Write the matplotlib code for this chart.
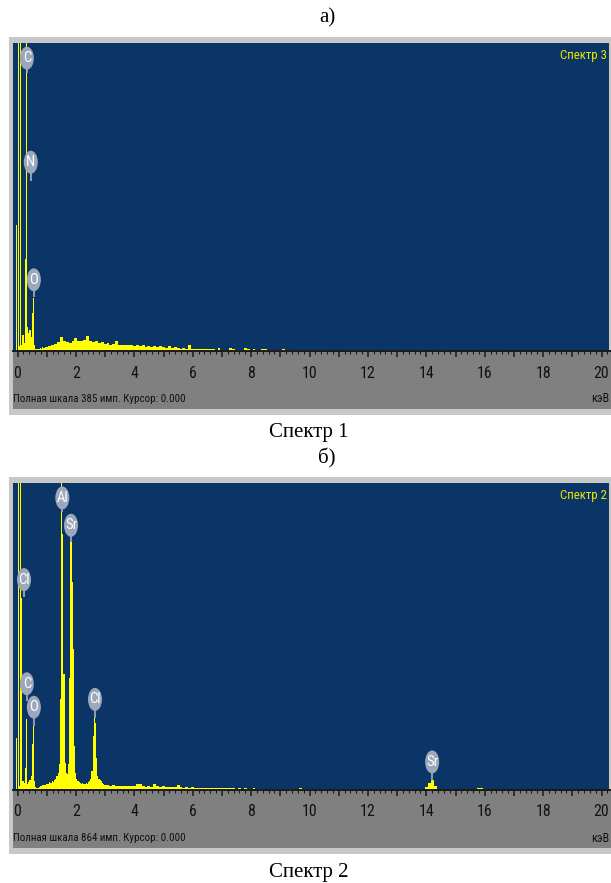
import matplotlib
matplotlib.use("Agg")
import matplotlib.pyplot as plt
import numpy as np
from matplotlib.patches import Rectangle, Ellipse
from matplotlib.ticker import MultipleLocator
from matplotlib.transforms import ScaledTranslation
from matplotlib import font_manager as fm

# ---------------- data (counts) ----------------
# Spectrum 1 (top, "Спектр 3"), fine channels near zero
top_lo_energy = [-0.03, 0.03, 0.07, 0.11, 0.15, 0.19, 0.23, 0.27, 0.31, 0.35, 0.39, 0.43,
                 0.47, 0.51, 0.55, 0.59, 0.63, 0.67, 0.71, 0.75, 0.79, 0.83, 0.87, 0.91, 0.95]
top_lo_counts = [157, 900, 6, 900, 8, 20, 10, 115, 900, 30, 22, 26,
                 18, 48, 66, 8, 3, 2, 3, 2, 4, 3, 5, 4, 5]
# background channels from 1.0 keV in 0.1 keV steps
top_bg_start = 1.0
top_bg_counts = [5, 6, 7, 9, 11, 18, 12, 11, 10, 12,
                 16, 12, 13, 14, 19, 13, 11, 12, 10, 11,
                 9, 10, 8, 9, 12, 8, 7, 8, 7, 7,
                 6, 7, 6, 7, 5, 6, 5, 6, 5, 6,
                 5, 4, 6, 4, 5, 4, 3, 4, 3, 7,
                 3, 3, 2, 3, 2, 3, 2, 2, 1, 4,
                 1, 1, 1, 4, 3, 1, 1, 1, 4, 3,
                 1, 3, 1, 1, 2, 2, 1, 1, 1, 1,
                 1, 3, 1, 1, 1, 1, 0, 1, 1, 0,
                 1, 1, 0, 1, 0, 1, 1, 0, 1, 0,
                 1, 0, 1, 1, 0, 1, 0, 1, 1, 0,
                 1, 0, 1, 0, 1, 0, 1, 1, 0, 1,
                 1, 0, 1, 0, 0, 1, 0, 1, 0, 1,
                 0, 0, 1, 0, 0, 1, 0, 1, 0, 0,
                 1, 0, 0, 1, 0, 0, 1, 0, 0, 1,
                 0, 0, 1, 0, 0, 0, 1, 0, 0, 1, 0]
top_full_scale = 385
top_labels = ["C", "N", "O"]
top_label_energy = [0.32, 0.455, 0.56]
top_label_y = [366, 236, 89]
top_stem_y = [347, 213, 67]

# Spectrum 2 (bottom, "Спектр 2"), fine channels up to 3 keV
bot_lo_energy = [-0.03, 0.03, 0.07, 0.11, 0.15, 0.19, 0.23, 0.27, 0.31, 0.35, 0.39, 0.43,
                 0.47, 0.51, 0.55, 0.59, 0.63, 0.67, 0.71, 0.75, 0.79, 0.83, 0.87, 0.91,
                 0.95, 0.99, 1.03, 1.07, 1.11, 1.15, 1.19, 1.23, 1.27, 1.31, 1.35, 1.39,
                 1.43, 1.47, 1.51, 1.55, 1.59, 1.63, 1.67, 1.71, 1.75, 1.79, 1.83, 1.87,
                 1.91, 1.95, 1.99, 2.03, 2.07, 2.11, 2.15, 2.19, 2.23, 2.27, 2.31, 2.35,
                 2.39, 2.43, 2.47, 2.51, 2.55, 2.59, 2.63, 2.67, 2.71, 2.75, 2.79, 2.83,
                 2.87, 2.91, 2.95]
bot_lo_counts = [147, 2000, 12, 2000, 540, 25, 20, 62, 200, 18, 22, 28,
                 40, 130, 180, 25, 8, 6, 5, 8, 10, 12, 14, 13,
                 15, 16, 18, 17, 22, 20, 25, 22, 28, 30, 38, 48,
                 72, 256, 900, 720, 327, 75, 48, 45, 72, 316, 697, 584,
                 398, 124, 48, 30, 25, 22, 20, 18, 20, 18, 17, 20,
                 18, 22, 25, 30, 54, 152, 203, 189, 90, 40, 30, 28,
                 25, 20, 18]
bot_bg_start = 3.0
bot_bg_counts = [15, 14, 12, 13, 11, 12, 11, 10, 12, 10,
                 11, 17, 16, 10, 9, 10, 9, 18, 10, 9,
                 12, 9, 8, 9, 8, 14, 8, 7, 8, 7,
                 8, 6, 7, 6, 6, 7, 6, 6, 5, 6,
                 5, 5, 6, 5, 5, 4, 5, 4, 5, 4,
                 4, 5, 4, 4, 3, 4, 3, 4, 3, 3,
                 4, 3, 3, 3, 4, 3, 3, 6, 3, 3,
                 2, 3, 0, 3, 0, 3, 3, 0, 0, 3,
                 0, 3, 0, 0, 3, 0, 3, 0, 0, 3,
                 0, 0, 3, 0, 3, 0, 0, 3, 0, 0,
                 3, 0, 3, 0, 0, 3, 0, 0, 3, 0,
                 8, 20, 28, 10, 3, 0, 3, 0, 0, 3,
                 0, 0, 0, 0, 3, 0, 0, 3, 6, 5,
                 3, 0, 0, 0, 0, 0]
bot_full_scale = 864
bot_labels = ["Cl", "C", "O", "Al", "Sr", "Cl", "Sr"]
bot_label_energy = [0.223, 0.32, 0.56, 1.535, 1.832, 2.654, 14.2]
bot_label_y = [592, 299, 233, 822, 745, 255, 79]
bot_stem_y = [542, 250, 180, 783, 698, 203, 26]

tick_values = list(range(0, 21))

# ---------------- styling ----------------
W, H = 611, 883
BLUE = "#0a3566"
YELLOW = "#ffff00"
GRAY = "#808080"
FRAME = "#c8c8c8"
LABEL_BG = "#9ba7bb"
SERIF = ["Liberation Serif", "DejaVu Serif"]
KEV0_PX = 17.5
PX_PER_KEV = 29.2

# pick a condensed sans if one is installed
_entries = fm.fontManager.ttflist
_names = {f.name for f in _entries}
FONT_STRETCH = "normal"
if "Liberation Sans Narrow" in _names:
    NARROW = ["Liberation Sans Narrow", "DejaVu Sans"]
    WFAC = 1.0
elif "Roboto Condensed" in _names:
    NARROW = ["Roboto Condensed", "DejaVu Sans"]
    WFAC = 0.97
elif any(f.name == "DejaVu Sans" and "condensed" in str(f.stretch) for f in _entries):
    NARROW = ["DejaVu Sans"]
    FONT_STRETCH = "condensed"
    WFAC = 0.9
else:
    NARROW = ["Liberation Sans", "DejaVu Sans"]
    WFAC = 0.85


def px2kev(px):
    return (px - KEV0_PX) / PX_PER_KEV


def fbox(x0, y0, x1, y1):
    return [x0 / W, 1 - y1 / H, (x1 - x0) / W, (y1 - y0) / H]


def ntext(ax, x, y, s, size, **kw):
    return ax.text(x, y, s, fontsize=size, family=NARROW, fontstretch=FONT_STRETCH, **kw)


fig = plt.figure(figsize=(W / 100, H / 100), dpi=100)
fig.patch.set_facecolor("white")


def panel(frame_top, blue_h, full_scale, lo_E, lo_C, bg_start, bg_C,
          labels, lab_E, lab_y, stem_y, tag, info):
    blue_top = frame_top + 6
    blue_bot = blue_top + blue_h
    gray_bot = blue_bot + 58
    frame_bot = gray_bot + 6
    fig.add_artist(Rectangle((9 / W, 1 - frame_bot / H), (W + 5 - 9) / W,
                             (frame_bot - frame_top) / H, transform=fig.transFigure,
                             fc=FRAME, ec="none", zorder=0))
    # spectrum area
    ax = fig.add_axes(fbox(13, blue_top, 609, blue_bot))
    ax.set_facecolor(BLUE)
    ax.set_xlim(px2kev(13), px2kev(609))
    ax.set_ylim(0, full_scale)
    for s in ax.spines.values():
        s.set_visible(False)
    ax.set_xticks([])
    ax.set_yticks([])
    ax.bar(lo_E, lo_C, width=0.04, color=YELLOW, linewidth=0, antialiased=False, zorder=2)
    bg_E = np.round(bg_start + 0.1 * np.arange(len(bg_C)), 2)
    ax.bar(bg_E, bg_C, width=0.1, color=YELLOW, linewidth=0, antialiased=False, zorder=2)
    for name, e, y, ys in zip(labels, lab_E, lab_y, stem_y):
        ax.plot([e, e], [ys, y], color=LABEL_BG, lw=1.3, zorder=3,
                solid_capstyle="butt")
        tr = fig.dpi_scale_trans + ScaledTranslation(e, y, ax.transData)
        ax.add_patch(Ellipse((0, 0), 0.14, 0.23, transform=tr, fc=LABEL_BG,
                             ec="none", zorder=4))
        ntext(ax, e, y, name, 11.0 * WFAC, ha="center", va="center",
              color="white", zorder=5)
    ntext(ax, 0.9966, 1 - 13 / blue_h, tag, 9.6 * WFAC, transform=ax.transAxes,
          ha="right", va="center", color="#e8e800")

    # axis strip
    gx = fig.add_axes(fbox(13, blue_bot, 611, gray_bot))
    gx.set_facecolor(GRAY)
    gx.set_xlim(px2kev(13), px2kev(611))
    gx.set_ylim(0, 1)
    for k, s in gx.spines.items():
        s.set_visible(k == "top")
    gx.spines["top"].set_color("#1a1a1a")
    gx.spines["top"].set_linewidth(1.4)
    gx.set_yticks([])
    gx.set_xticks(tick_values)
    gx.xaxis.set_minor_locator(MultipleLocator(0.2))
    gx.tick_params(axis="x", which="both", top=True, bottom=False, labeltop=False,
                   labelbottom=False, direction="in", color="#1a1a1a")
    gx.tick_params(axis="x", which="major", length=4.0, width=1.1)
    gx.tick_params(axis="x", which="minor", length=2.2, width=0.8)
    for v in tick_values:
        if v % 2 == 0:
            ntext(gx, v, 1 - 22 / 58, str(v), 11.8 * WFAC, ha="center", va="center",
                  color="#111111")
    ntext(gx, 0.0, 1 - 48 / 58, info, 8.2 * WFAC, transform=gx.transAxes,
          ha="left", va="center", color="#111111")
    ntext(gx, 0.998, 1 - 48 / 58, "кэВ", 9.0 * WFAC, transform=gx.transAxes,
          ha="right", va="center", color="#111111")


panel(37, 308, top_full_scale, top_lo_energy, top_lo_counts, top_bg_start,
      top_bg_counts, top_labels, top_label_energy, top_label_y, top_stem_y,
      "Спектр 3", "Полная шкала 385 имп. Курсор: 0.000")
panel(477, 307, bot_full_scale, bot_lo_energy, bot_lo_counts, bot_bg_start,
      bot_bg_counts, bot_labels, bot_label_energy, bot_label_y, bot_stem_y,
      "Спектр 2", "Полная шкала 864 имп. Курсор: 0.000")

fig.text(327 / W, 1 - 18 / H, "а)", ha="center", va="center", fontsize=15, family=SERIF)
fig.text(309 / W, 1 - 433 / H, "Спектр 1", ha="center", va="center", fontsize=15, family=SERIF)
fig.text(327 / W, 1 - 458 / H, "б)", ha="center", va="center", fontsize=15, family=SERIF)
fig.text(309 / W, 1 - 872 / H, "Спектр 2", ha="center", va="center", fontsize=15, family=SERIF)

fig.savefig("out.png", dpi=100, facecolor="white")
